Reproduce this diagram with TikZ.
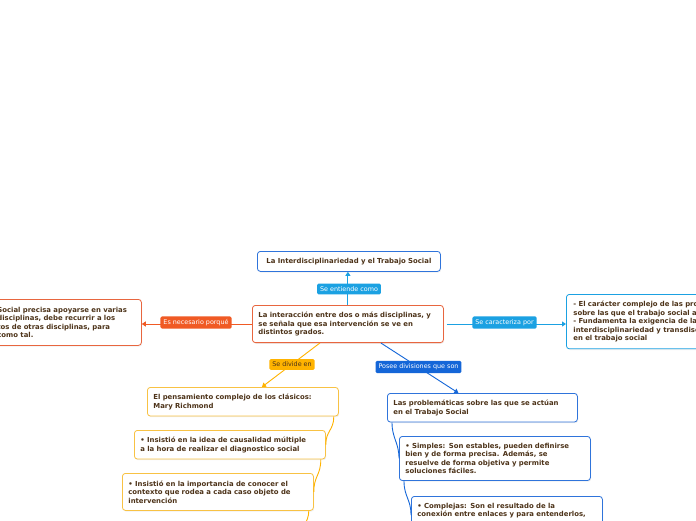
\documentclass[tikz,border=0pt]{standalone}
\usepackage{fontspec}
\setmainfont{DejaVu Sans}
\usetikzlibrary{arrows.meta, positioning, calc, shadows}
\definecolor{mapbrown}{HTML}{4D3319}
\definecolor{linkcyan}{HTML}{1BA1E2}
\definecolor{linkblue}{HTML}{1466D8}
\definecolor{linkorange}{HTML}{F05A24}
\definecolor{linkamber}{HTML}{FFB300}
\definecolor{borderblue}{HTML}{2F74DB}
\definecolor{borderorange}{HTML}{E8663F}
\definecolor{borderamber}{HTML}{F8C244}

\begin{document}
\begin{tikzpicture}[x=1pt, y=-1pt,
  topic/.style={draw, fill=white, rounded corners=3pt, line width=0.8pt,
    anchor=north west, align=left, text=mapbrown,
    font=\bfseries\fontsize{6.9}{8.6}\selectfont, inner xsep=6pt, inner ysep=6.5pt,
    drop shadow={opacity=0.12, shadow xshift=0.8pt, shadow yshift=-1.2pt}},
  linklabel/.style={rounded corners=1.5pt, text=white,
    font=\fontsize{6.4}{7}\selectfont, inner xsep=3pt, inner ysep=3pt},
  link/.style={line width=0.9pt, -{Triangle[length=4pt, width=5pt]}},
  branch/.style={line width=0.9pt}]
      \useasboundingbox (0,0) rectangle (696,520);
      \fill[white] (0,0) rectangle (696,520);
      \clip (0,0) rectangle (696,520);

      \node[topic, draw=borderblue, text width=171pt, align=center, minimum height=20pt]
        (title) at (257,251) {La Interdisciplinariedad y el Trabajo Social};
      \node[topic, draw=borderorange, text width=179pt, minimum height=36pt]
        (center) at (252,305) {La interacción entre dos o más disciplinas, y\\
          se señala que esa intervención se ve en\\ distintos grados.};
      \node[topic, draw=borderorange, inner xsep=8pt, text width=136pt, minimum height=46pt]
        (reason) at (-11,299) {Social precisa apoyarse en varias\\
          disciplinas, debe recurrir a los\\ tos de otras disciplinas, para\\ como tal.};
      \node[topic, draw=linkcyan, inner xsep=7pt, text width=240pt, minimum height=54pt]
        (traits) at (566,294) {- El carácter complejo de las problemáticas\\
          sobre las que el trabajo social actúa\\ - Fundamenta la exigencia de la\\
          interdisciplinariedad y transdisciplinariedad\\ en el trabajo social};

      \node[topic, draw=borderamber, text width=179pt, minimum height=27pt]
        (richmond) at (147,387) {El pensamiento complejo de los clásicos:\\ Mary Richmond};
      \node[topic, draw=borderamber, text width=179pt, minimum height=27pt]
        (causal) at (134,430) {• Insistió en la idea de causalidad múltiple\\
          a la hora de realizar el diagnostico social};
      \node[topic, draw=borderamber, text width=179pt, minimum height=37pt]
        (context) at (122,473) {• Insistió en la importancia de conocer el\\
          contexto que rodea a cada caso objeto de\\ intervención};
      \coordinate (contextnext) at (300,540);

      \node[topic, draw=borderblue, text width=178pt, minimum height=28pt]
        (problems) at (387,393) {Las problemáticas sobre las que se actúan\\ en el Trabajo Social};
      \node[topic, draw=borderblue, text width=179pt, minimum height=44pt]
        (simple) at (399,436) {• Simples: Son estables, pueden definirse\\
          bien y de forma precisa. Además, se\\ resuelve de forma objetiva y permite\\
          soluciones fáciles.};
      \node[topic, draw=borderblue, text width=179pt]
        (complex) at (411,496) {• Complejas: Son el resultado de la\\
          conexión entre enlaces y para entenderlos,};

      \draw[link, linkcyan] (center.north) -- (center.north |- title.south);
      \draw[link, linkorange] (center.west) -- (center.west -| reason.east);
      \draw[link, linkcyan] ([xshift=3pt]center.east) -- (center.east -| traits.west);
      \draw[link, linkamber] ([xshift=-28pt]center.south) -- ([xshift=19pt]richmond.north);
      \draw[link, linkblue] ([xshift=33pt]center.south) -- ([xshift=-24pt]problems.north);

      \draw[branch, linkamber] ([xshift=-5pt]richmond.south east)
        .. controls +(0,14) and +(0,-14) .. (causal.east);
      \draw[branch, linkamber] ([xshift=-5pt]causal.south east)
        .. controls +(0,16) and +(0,-16) .. (context.east);
      \draw[branch, linkamber] ([xshift=-5pt]context.south east)
        .. controls +(0,12) and +(0,-12) .. (contextnext);
      \draw[branch, linkblue] ([xshift=5pt]problems.south west)
        .. controls +(0,16) and +(0,-16) .. (simple.west);
      \draw[branch, linkblue] ([xshift=5pt]simple.south west)
        .. controls +(0,16) and +(0,-16) .. ([yshift=-19pt]complex.north west);

      \node[linklabel, fill=linkcyan] (seentiende) at (349,289) {Se entiende como};
      \node[linklabel, fill=linkorange] (esnecesario) at (196,322.5) {Es necesario porqué};
      \node[linklabel, fill=linkcyan] (secaracteriza) at (504.5,322.5) {Se caracteriza por};
      \node[linklabel, fill=linkamber, text=mapbrown] (sedivide) at (292,364.5) {Se divide en};
      \node[linklabel, fill=linkblue] (posee) at (418.5,367) {Posee divisiones que son};
    \end{tikzpicture}
\end{document}
